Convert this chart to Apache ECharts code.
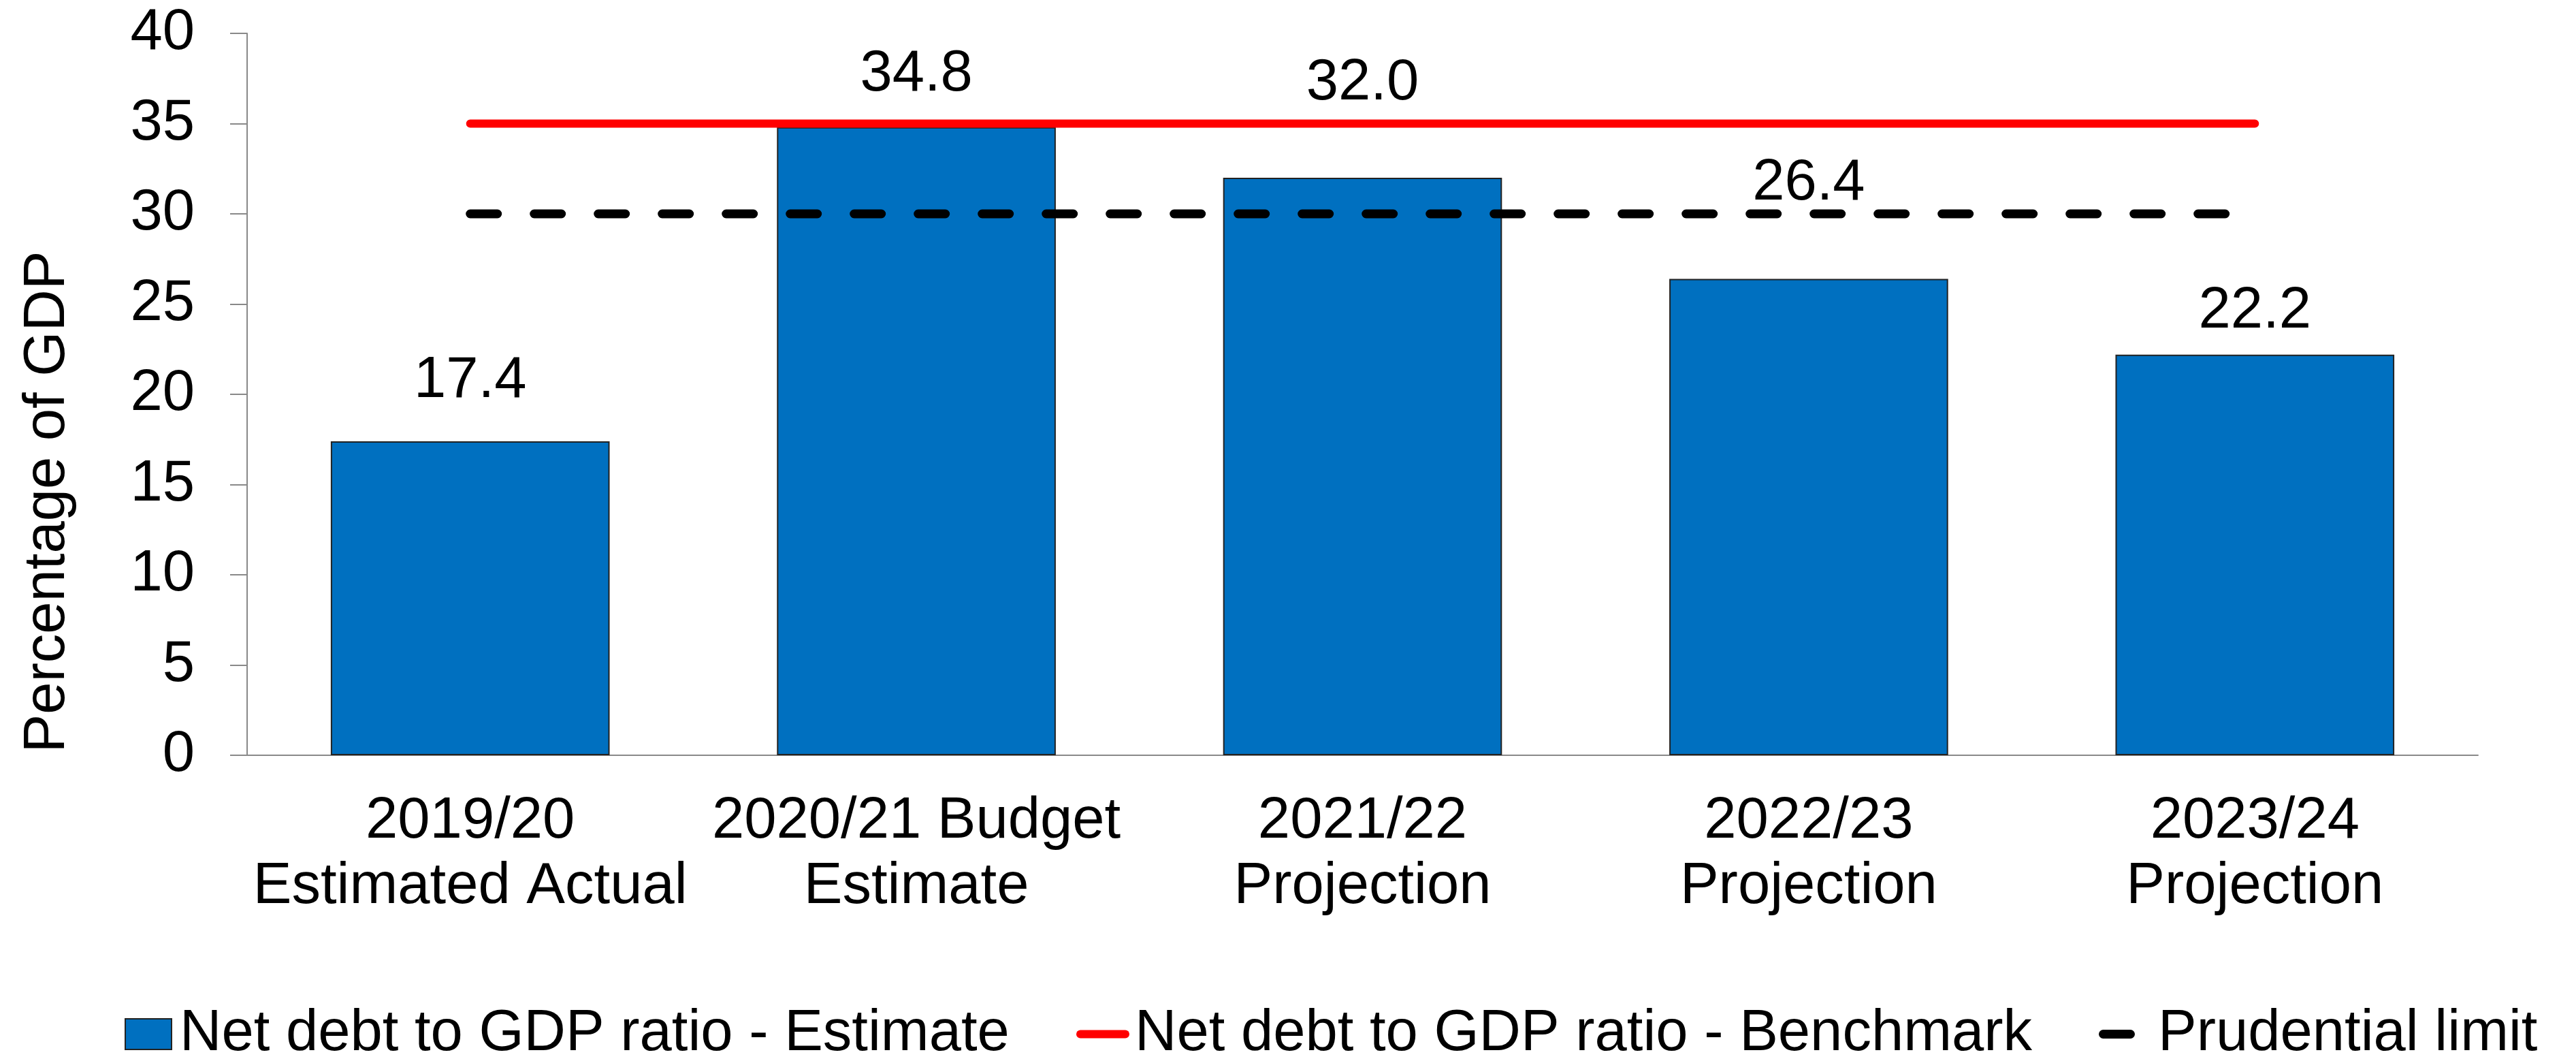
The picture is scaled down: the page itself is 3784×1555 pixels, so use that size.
<!DOCTYPE html>
<html>
<head>
<meta charset="utf-8">
<script src="https://cdn.jsdelivr.net/npm/echarts@6/dist/echarts.min.js"></script>
<style>
  html, body { margin: 0; padding: 0; background: #fff; }
  #chart { width: 3784px; height: 1555px; }
</style>
</head>
<body>
<div id="chart"></div>
<script>
// categories and values
var categories = [
  "2019/20\nEstimated Actual",
  "2020/21 Budget\nEstimate",
  "2021/22\nProjection",
  "2022/23\nProjection",
  "2023/24\nProjection"
];
var estimate = [17.4, 34.8, 32.0, 26.4, 22.2];
var benchmark = [35, 35, 35, 35, 35];
var prudentialLimit = [30, 30, 30, 30, 30];
var yTicks = { min: 0, max: 40, interval: 5 };

// extra upward shift of each data label (style only)
var labelLift = [-41, -30, -91, -92, -16];

var FONT = "Liberation Sans, Arial, sans-serif";
// rounded line-end icons for the legend
var redIcon = "path://M6,0 L72,0 A6,6 0 0 1 72,12 L6,12 A6,6 0 0 1 6,0 Z";
var dashIcon = "path://M6.5,0 L46.5,0 A6.5,6.5 0 0 1 46.5,13 L6.5,13 A6.5,6.5 0 0 1 6.5,0 Z";

function init_net_debt_chart(container) {
  var chartDom = document.getElementById(container);
  var myChart = echarts.init(chartDom);
  var option;

  var barData = estimate.map(function (v, i) {
    return { value: v, label: { offset: [0, labelLift[i]] } };
  });

  option = {
    animation: false,
    textStyle: { fontFamily: FONT },
    grid: {
      left: 363,
      right: 144,
      top: 49,
      bottom: 446,
    },
    legend: [
      {
        left: 178,
        top: 1471,
        itemWidth: 68,
        itemHeight: 45,
        data: [{ name: "Net debt to GDP ratio - Estimate", icon: "rect" }],
        textStyle: { fontSize: 85, color: "#000", fontFamily: FONT, padding: [0, 0, 0, 7] },
      },
      {
        left: 1576,
        top: 1471,
        itemWidth: 78,
        itemHeight: 45,
        data: [{ name: "Net debt to GDP ratio - Benchmark", icon: redIcon }],
        textStyle: { fontSize: 85, color: "#000", fontFamily: FONT, padding: [0, 0, 0, 3] },
      },
      {
        left: 3078,
        top: 1471,
        itemWidth: 53,
        itemHeight: 45,
        data: [{ name: "Prudential limit", icon: dashIcon }],
        textStyle: { fontSize: 85, color: "#000", fontFamily: FONT, padding: [0, 0, 0, 29] },
      },
    ],
    xAxis: {
      type: "category",
      data: categories,
      axisLine: { lineStyle: { color: "#898989", width: 2 } },
      axisTick: { show: false },
      axisLabel: {
        interval: 0,
        color: "#000",
        fontSize: 85,
        lineHeight: 96,
        margin: 50,
        fontFamily: FONT,
      },
    },
    yAxis: {
      type: "value",
      min: yTicks.min,
      max: yTicks.max,
      interval: yTicks.interval,
      name: "Percentage of GDP",
      nameLocation: "middle",
      nameGap: 250,
      nameTextStyle: {
        fontSize: 85,
        color: "#000",
        fontFamily: FONT,
        padding: [0, 316, 0, 0],
      },
      axisLine: { show: true, lineStyle: { color: "#898989", width: 2 } },
      axisTick: { show: true, length: 25, lineStyle: { color: "#898989", width: 2 } },
      splitLine: { show: false },
      axisLabel: {
        color: "#000",
        fontSize: 85,
        margin: 77,
        fontFamily: FONT,
      },
    },
    series: [
      {
        name: "Net debt to GDP ratio - Estimate",
        type: "bar",
        data: barData,
        barWidth: "62.5%",
        itemStyle: { color: "#0070C0", borderColor: "#222", borderWidth: 2 },
        label: {
          show: true,
          position: "top",
          color: "#000",
          fontSize: 85,
          fontFamily: FONT,
          formatter: function (p) {
            return p.value.toFixed(1);
          },
        },
      },
      {
        name: "Net debt to GDP ratio - Benchmark",
        type: "line",
        data: benchmark,
        symbol: "none",
        itemStyle: { color: "#FF0000" },
        lineStyle: { color: "#FF0000", width: 12, cap: "round" },
      },
      {
        name: "Prudential limit",
        type: "line",
        data: prudentialLimit,
        symbol: "none",
        itemStyle: { color: "#000" },
        lineStyle: { color: "#000", width: 13, type: [40, 54], cap: "round" },
      },
    ],
  };

  option && myChart.setOption(option);
  window.addEventListener("resize", function () {
    myChart.resize();
  });
}

init_net_debt_chart("chart");
</script>
</body>
</html>
